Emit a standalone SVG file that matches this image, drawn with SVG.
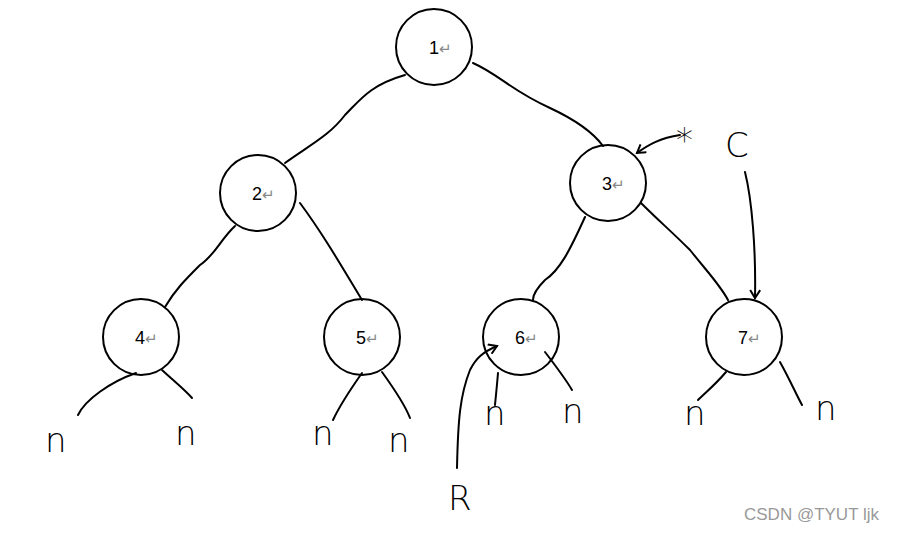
<svg xmlns="http://www.w3.org/2000/svg" width="900" height="534" viewBox="0 0 900 534">
<style>
.n circle{fill:#fff;stroke:#000;stroke-width:2}
.n text{font-family:"Liberation Sans",sans-serif;font-size:18px;fill:#000}
.r{fill:#888;font-size:15px}
#c path{fill:none;stroke:#000;stroke-width:2;stroke-linecap:round}
.h{font-family:"DejaVu Sans",sans-serif;font-size:34px;font-weight:200;fill:#000}
</style>
<defs><marker id="a" markerWidth="12" markerHeight="12" refX="9" refY="6" orient="auto" markerUnits="userSpaceOnUse"><path d="M1,1 L9,6 L1,11" fill="none" stroke="#000" stroke-width="2"/></marker></defs>
<rect width="900" height="534" fill="#fff"/>
<g id="n1" class="n"><circle cx="434" cy="47" r="38"/><text x="429" y="54">1<tspan class="r">↵</tspan></text></g>
<g id="n2" class="n"><circle cx="258" cy="193" r="38"/><text x="252" y="200">2<tspan class="r">↵</tspan></text></g>
<g id="n3" class="n"><circle cx="608" cy="183" r="38"/><text x="602" y="190">3<tspan class="r">↵</tspan></text></g>
<g id="n4" class="n"><circle cx="141" cy="337" r="38"/><text x="135" y="344">4<tspan class="r">↵</tspan></text></g>
<g id="n5" class="n"><circle cx="362" cy="337" r="38"/><text x="356" y="344">5<tspan class="r">↵</tspan></text></g>
<g id="n6" class="n"><circle cx="521" cy="337" r="38"/><text x="515" y="344">6<tspan class="r">↵</tspan></text></g>
<g id="n7" class="n"><circle cx="744" cy="337" r="38"/><text x="738" y="344">7<tspan class="r">↵</tspan></text></g>
<g id="c">
<path d="M405,75 C370,85 360,100 345,115 C330,135 310,145 285,163"/>
<path d="M473,63 C500,75 510,90 550,108 C580,122 595,135 603,146"/>
<path d="M235,226 C220,240 215,255 200,265 C185,280 175,290 165,307"/>
<path d="M300,203 C320,230 335,255 362,300"/>
<path d="M585,217 C570,250 560,270 545,280 C535,290 533,295 533,300"/>
<path d="M641,203 C660,222 670,230 690,250 C710,275 720,285 728,300"/>
<path d="M136,373 C110,382 85,400 78,415"/>
<path d="M162,370 C175,382 185,390 192,398"/>
<path d="M362,373 C350,390 340,405 333,420"/>
<path d="M382,372 C395,390 405,405 410,418"/>
<path d="M498,373 C497,385 496,395 495,405"/>
<path d="M545,352 C555,365 565,378 572,390"/>
<path d="M726,372 C715,385 705,393 698,400"/>
<path d="M780,362 C790,380 795,392 802,405"/>
<path d="M457,468 C458,420 460,395 470,370 C476,358 483,352 497,346" marker-end="url(#a)"/>
<path d="M745,172 C752,200 756,250 755,298" marker-end="url(#a)"/>
<path d="M680,135 C660,138 648,145 637,153" marker-end="url(#a)"/>
</g>
<g id="labels" class="h">
<text x="45" y="452">n</text><text x="175" y="445">n</text><text x="312" y="445">n</text><text x="388" y="452">n</text>
<text x="484" y="425">n</text><text x="562" y="423">n</text><text x="684" y="425">n</text><text x="815" y="420">n</text>
<text x="448" y="510">R</text><text x="676" y="152">*</text><text x="725" y="157">C</text>
</g>
<text x="744" y="520" font-family="Liberation Sans,sans-serif" font-size="17" fill="#999">CSDN @TYUT ljk</text>
</svg>
